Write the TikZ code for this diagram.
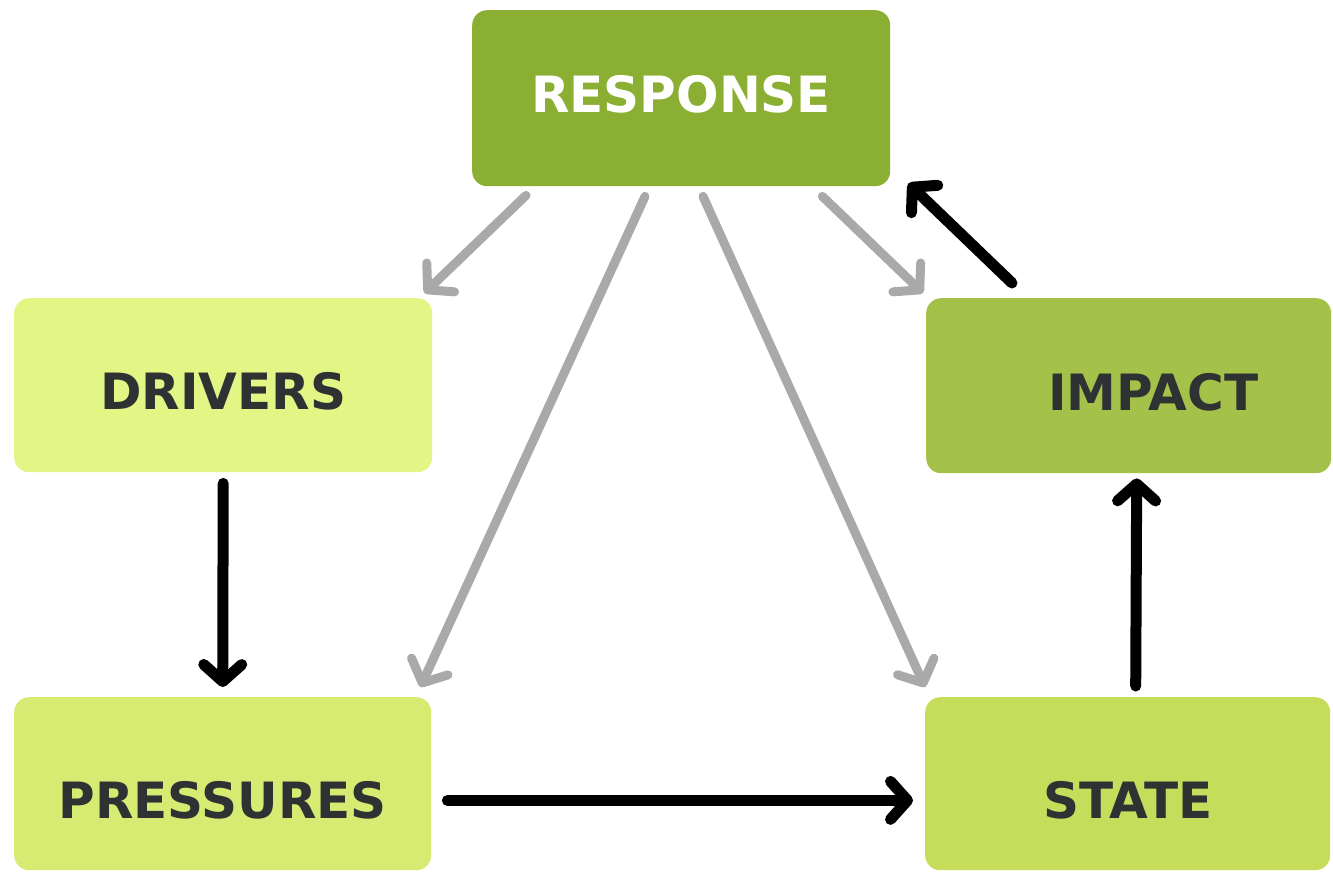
\documentclass[tikz,border=0pt]{standalone}
\usepackage{fontspec}
\setmainfont{DejaVu Sans}
\usetikzlibrary{arrows.meta}
\definecolor{cresp}{HTML}{8BAF32}
\definecolor{cdrv}{HTML}{E2F585}
\definecolor{cimp}{HTML}{A4C249}
\definecolor{cprs}{HTML}{D7EB72}
\definecolor{cstate}{HTML}{C6DD5C}
\definecolor{ctext}{HTML}{2F3233}
\definecolor{cgray}{HTML}{A9A9A9}
\begin{document}
\begin{tikzpicture}[x=1pt,y=-1pt,
  box/.style={rounded corners=15pt, inner sep=0pt, anchor=north west,
    font=\fontsize{50}{60}\selectfont\bfseries, text=ctext},
  grayarrow/.style={draw=cgray, line width=9pt, line cap=round,
    -{Straight Barb[length=18pt,width=40pt,round]}},
  blackarrow/.style={draw=black, line width=11pt, line cap=round,
    -{Straight Barb[length=17pt,width=38pt,round]}}]
\useasboundingbox[fill=white] (0,0) rectangle (1333,872);
\node[box, fill=cresp, text=white, minimum width=418pt, text height=102pt, text depth=74pt] (resp) at (472,10) {RESPONSE};
\node[box, fill=cdrv, minimum width=418pt, text height=111pt, text depth=63pt] (drv) at (14,298) {DRIVERS};
\node[box, fill=cimp, text width=259pt, align=right, inner xsep=73pt, text height=112pt, text depth=63pt] (imp) at (926,298) {IMPACT};
\node[box, fill=cprs, minimum width=417pt, text height=121pt, text depth=52pt] (prs) at (14,697) {PRESSURES};
\node[box, fill=cstate, minimum width=405pt, text height=121pt, text depth=52pt] (state) at (925,697) {STATE};
% gray arrows from RESPONSE
\draw[grayarrow] ([shift={(54,9)}]resp.south west) -- ([shift={(-8,-5)}]drv.north east);
\draw[grayarrow] ([shift={(173,10)}]resp.south west) -- ([shift={(-11,-10)}]prs.north east);
\draw[grayarrow] ([shift={(231,10)}]resp.south west) -- ([shift={(0,-10)}]state.north west);
\draw[grayarrow] ([shift={(-68,10)}]resp.south east) -- ([shift={(-3,-5)}]imp.north west);
% black arrows
\draw[blackarrow] ([shift={(0,11)}]drv.south) -- ([shift={(0,-10)}]prs.north);
\draw[blackarrow] ([shift={(16,-70)}]prs.south east) -- ([shift={(-12,-70)}]state.south west);
\draw[blackarrow] ([shift={(8,-11)}]state.north) -- ([shift={(8,5)}]imp.south);
\draw[blackarrow] ([shift={(86,-15)}]imp.north west) -- ([shift={(18,-3)}]resp.south east);
\end{tikzpicture}
\end{document}
